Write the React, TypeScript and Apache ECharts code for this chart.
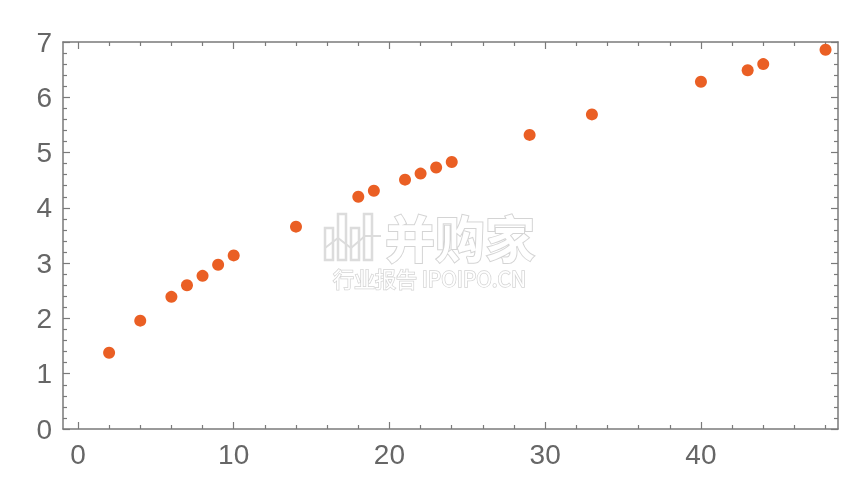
import React, { useEffect, useRef } from "react";
import * as echarts from "echarts";

const xValues = [2, 4, 6, 7, 8, 9, 10, 14, 18, 19, 21, 22, 23, 24, 29, 33, 40, 43, 44, 48];
const yValues = [1.38, 1.96, 2.39, 2.6, 2.77, 2.97, 3.14, 3.66, 4.2, 4.31, 4.51, 4.62, 4.73, 4.83, 5.32, 5.69, 6.28, 6.49, 6.6, 6.86];
const xMajor = [0, 10, 20, 30, 40];
const xMinor = [2, 4, 6, 8, 12, 14, 16, 18, 22, 24, 26, 28, 32, 34, 36, 38, 42, 44, 46, 48];
const yMajor = [0, 1, 2, 3, 4, 5, 6, 7];
const yMinor = [0.2, 0.4, 0.6, 0.8, 1.2, 1.4, 1.6, 1.8, 2.2, 2.4, 2.6, 2.8, 3.2, 3.4, 3.6, 3.8, 4.2, 4.4, 4.6, 4.8, 5.2, 5.4, 5.6, 5.8, 6.2, 6.4, 6.6, 6.8];

const AXIS = "#7a7a7a";
const LABEL = "#666666";
const X_MIN = -0.96;
const X_MAX = 48.8;

export default function App() {
  const ref = useRef<HTMLDivElement>(null);
  useEffect(() => {
    document.body.style.margin = "0";
    const chart = echarts.init(ref.current!, null, { renderer: "svg" });
    const label = {
      color: LABEL,
      fontSize: 28,
      fontFamily: "Liberation Sans, Arial, sans-serif",
    };
    const xAxisBase = (position: string, major: boolean, showLine: boolean, showLabel: boolean) => ({
      type: "value",
      min: X_MIN,
      max: X_MAX,
      position,
      axisLine: { show: showLine, onZero: false, lineStyle: { color: AXIS, width: 1.5 } },
      splitLine: { show: false },
      axisTick: {
        show: true,
        inside: true,
        length: major ? 7 : 4,
        lineStyle: { color: AXIS, width: 1.2 },
        customValues: major ? xMajor : xMinor,
      },
      axisLabel: showLabel
        ? { show: true, ...label, margin: 11, customValues: xMajor }
        : { show: false },
    });
    const yAxisBase = (position: string, major: boolean, showLine: boolean, showLabel: boolean) => ({
      type: "value",
      min: 0,
      max: 7,
      position,
      axisLine: { show: showLine, onZero: false, lineStyle: { color: AXIS, width: 1.5 } },
      splitLine: { show: false },
      axisTick: {
        show: true,
        inside: true,
        length: major ? 7 : 4,
        lineStyle: { color: AXIS, width: 1.2 },
        customValues: major ? yMajor : yMinor,
      },
      axisLabel: showLabel
        ? { show: true, ...label, margin: 11, customValues: yMajor }
        : { show: false },
    });
    const wmStyle = {
      fill: "#ffffff",
      stroke: "#d4d4d4",
      lineWidth: 2,
    };
    chart.setOption({
      animation: false,
      grid: { left: 63, right: 21, top: 42, bottom: 67, containLabel: false },
      xAxis: [
        xAxisBase("bottom", true, true, true),
        xAxisBase("bottom", false, false, false),
        xAxisBase("top", true, true, false),
        xAxisBase("top", false, false, false),
      ],
      yAxis: [
        yAxisBase("left", true, true, true),
        yAxisBase("left", false, false, false),
        yAxisBase("right", true, true, false),
        yAxisBase("right", false, false, false),
      ],
      graphic: [
        {
          type: "text",
          x: 385,
          y: 212,
          z: 100,
          style: {
            text: "并购家",
            fontSize: 50,
            lineHeight: 48,
            fontWeight: "bold",
            fontFamily: "Noto Sans CJK SC",
            ...wmStyle,
          },
        },
        {
          type: "text",
          x: 333,
          y: 268,
          z: 100,
          style: {
            text: "行业报告 IPOIPO.CN",
            fontSize: 21,
            lineHeight: 20,
            fontFamily: "Noto Sans CJK SC",
            ...wmStyle,
            lineWidth: 1.5,
          },
        },
        {
          type: "group",
          x: 325,
          y: 214,
          z: 100,
          children: [
            ...[0, 1, 2, 3].map((i) => ({
              type: "rect",
              shape: { x: i * 13, y: i % 2 === 0 ? 14 : 0, width: 8, height: i % 2 === 0 ? 32 : 46 },
              style: { fill: "none", stroke: "#dcdcdc", lineWidth: 2.5 },
            })),
            {
              type: "polyline",
              shape: { points: [[0, 34], [13, 24], [26, 34], [40, 22], [56, 22]] },
              style: { fill: "none", stroke: "#dcdcdc", lineWidth: 2 },
            },
          ],
        },
      ],
      series: [
        {
          type: "scatter",
          xAxisIndex: 0,
          yAxisIndex: 0,
          symbolSize: 12,
          itemStyle: { color: "#EA5F24", opacity: 1 },
          data: xValues.map((x, i) => [x, yValues[i]]),
        },
      ],
    });
    return () => chart.dispose();
  }, []);
  return <div ref={ref} style={{ position: "fixed", left: 0, top: 0, width: 859, height: 496 }} />;
}
